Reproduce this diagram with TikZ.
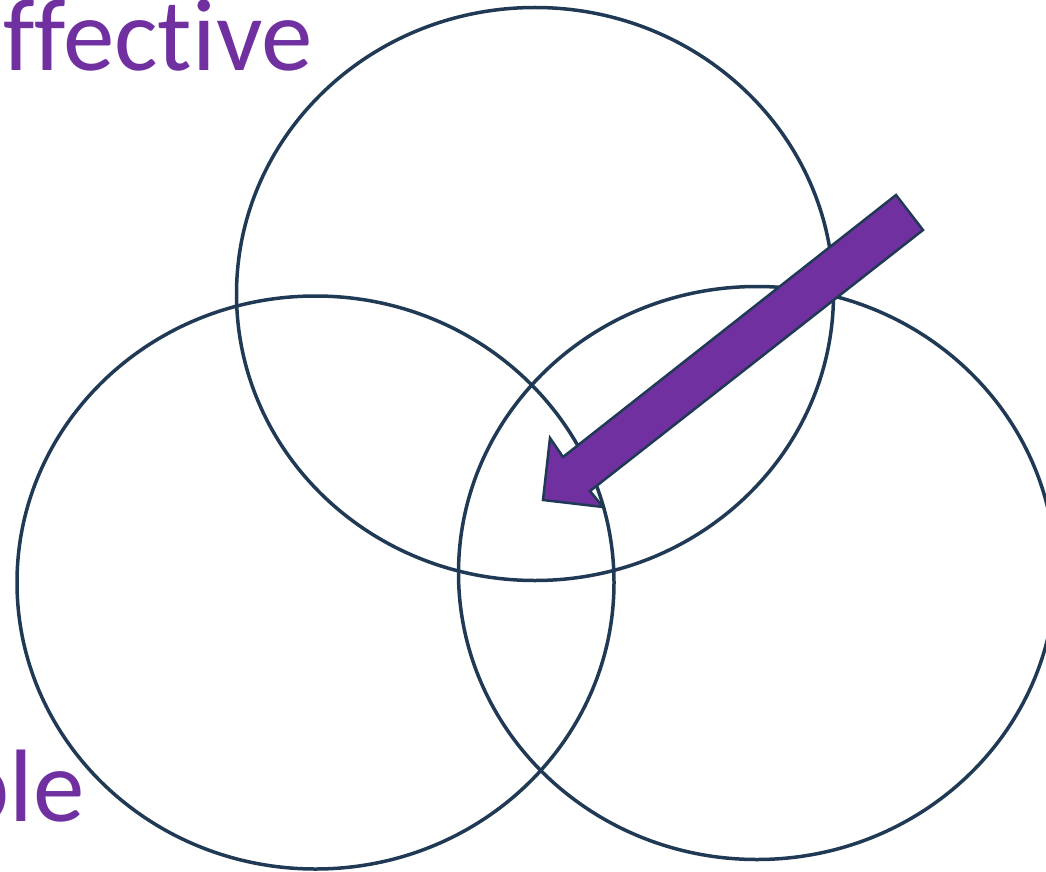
\documentclass[tikz,border=0pt]{standalone}
\usepackage{fontspec}
\usetikzlibrary{shapes.geometric}
\setmainfont{Carlito}[Ligatures=NoCommon]
\definecolor{ringcol}{HTML}{203A56}
\definecolor{purp}{HTML}{7030A0}
\tikzset{
  ring/.style={draw=ringcol, line width=3.5pt, ellipse, inner sep=0pt, minimum width=597pt, minimum height=573pt},
  bigtext/.style={text=purp, inner sep=0pt, font=\fontsize{103}{110}\selectfont},
  fatarrow/.style={fill=purp, draw=ringcol, line width=2.5pt, line join=miter}
}
\begin{document}
\begin{tikzpicture}[x=1pt,y=-1pt]
\useasboundingbox (0,0) rectangle (1046,872);
\node[bigtext, anchor=base east] (t1) at (313,71) {ffective};
\node[bigtext, anchor=base east] (t2) at (85,821) {ple};
\node[ring] (top) at (535,294) {};
\node[ring] (left) at (315.5,582.5) {};
\node[ring] (right) at (757,573) {};
\draw[fatarrow] (896,195) -- (563,457) -- (550,438) -- (543,500) -- (603,507) -- (590,491) -- (923,230) -- cycle;
\end{tikzpicture}
\end{document}
